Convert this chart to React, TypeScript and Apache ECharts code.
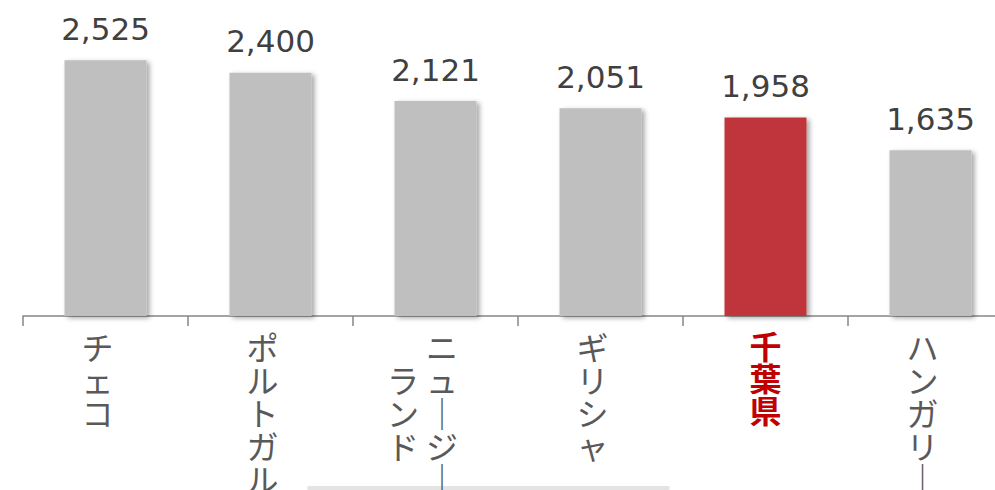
import React, { useEffect, useRef } from "react";
import * as echarts from "echarts";

const categories = ["チェコ", "ポルトガル", "ニュージーランド", "ギリシャ", "千葉県", "ハンガリー"];
const values = [2525, 2400, 2121, 2051, 1958, 1635];
const highlight = "千葉県";
// labels that wrap into two vertical columns (right column first)
const labelColumns: Record<string, string[]> = {
  "ニュージーランド": ["ニュージー", "ランド"],
};

const JP_FONT = '"Noto Sans CJK JP", "Noto Sans", sans-serif';
const GRAY = "#BFBFBF";
const RED = "#C0363A";

const vchar = (c: string) => (c === "ー" ? "｜" : c);

function verticalLabel(name: string): string {
  const chars = [...name];
  if (name === highlight) return chars.map((c) => `{r|${c}}`).join("\n");
  const cols = labelColumns[name];
  if (!cols) return chars.map((c) => `{g|${vchar(c)}}`).join("\n");
  const right = [...cols[0]];
  const left = [...cols[1]];
  const maxLen = Math.max(right.length, left.length);
  const offR = Math.floor((maxLen - right.length) / 2);
  const offL = Math.floor((maxLen - left.length) / 2);
  const rows: string[] = [];
  for (let i = 0; i < maxLen; i++) {
    const l = left[i - offL] ?? "　";
    const r = right[i - offR] ?? "　";
    rows.push(`{c|${vchar(l)}}{c|${vchar(r)}}{sp|　}`);
  }
  return rows.join("\n");
}

export default function App() {
  const ref = useRef<HTMLDivElement>(null);
  useEffect(() => {
    if (!ref.current) return;
    const chart = echarts.init(ref.current, undefined, { renderer: "svg" });
    const baseText = {
      fontSize: 32,
      lineHeight: 33,
      color: "#595959",
      fontFamily: JP_FONT,
    };
    chart.setOption({
      animation: false,
      grid: {
        left: 23,
        top: 12,
        width: 990,
        height: 304,
        outerBoundsMode: "none",
        containLabel: false,
      },
      xAxis: {
        type: "category",
        data: categories,
        axisLine: { lineStyle: { color: "#868686", width: 1.5 } },
        axisTick: { show: true, length: 10, lineStyle: { color: "#868686", width: 1.5 } },
        axisLabel: {
          interval: 0,
          margin: 13,
          hideOverlap: false,
          formatter: (v: string) => verticalLabel(v),
          rich: {
            g: { ...baseText, width: 48, align: "left" },
            c: { ...baseText, width: 39, align: "center" },
            sp: { ...baseText, width: 26 },
            r: {
              ...baseText,
              width: 32,
              align: "center",
              fontWeight: "bold",
              color: "#C00000",
              lineHeight: 32,
            },
          },
        },
      },
      yAxis: { type: "value", min: 0, max: 3000, show: false },
      series: [
        {
          type: "bar",
          barWidth: 82,
          data: values.map((v, i) => ({
            value: v,
            itemStyle: { color: categories[i] === highlight ? RED : GRAY },
          })),
          itemStyle: {
            shadowBlur: 5,
            shadowOffsetX: 3,
            shadowOffsetY: 2,
            shadowColor: "rgba(0,0,0,0.35)",
          },
          label: {
            show: true,
            position: "top",
            distance: 16,
            fontSize: 31,
            color: "#404040",
            fontFamily: '"DejaVu Sans", Verdana, sans-serif',
            formatter: (p: any) => Number(p.value).toLocaleString("en-US"),
          },
        },
      ],
      graphic: [
        {
          type: "rect",
          shape: { x: 307, y: 486, width: 363, height: 4, r: 2 },
          style: { fill: "#e4e4e4" },
          silent: true,
        },
      ],
    });
    return () => chart.dispose();
  }, []);
  return (
    <div style={{ position: "fixed", left: 0, top: 0, width: 995, height: 490, overflow: "hidden", background: "#fff" }}>
      <div ref={ref} style={{ width: 1013, height: 490 }} />
    </div>
  );
}
